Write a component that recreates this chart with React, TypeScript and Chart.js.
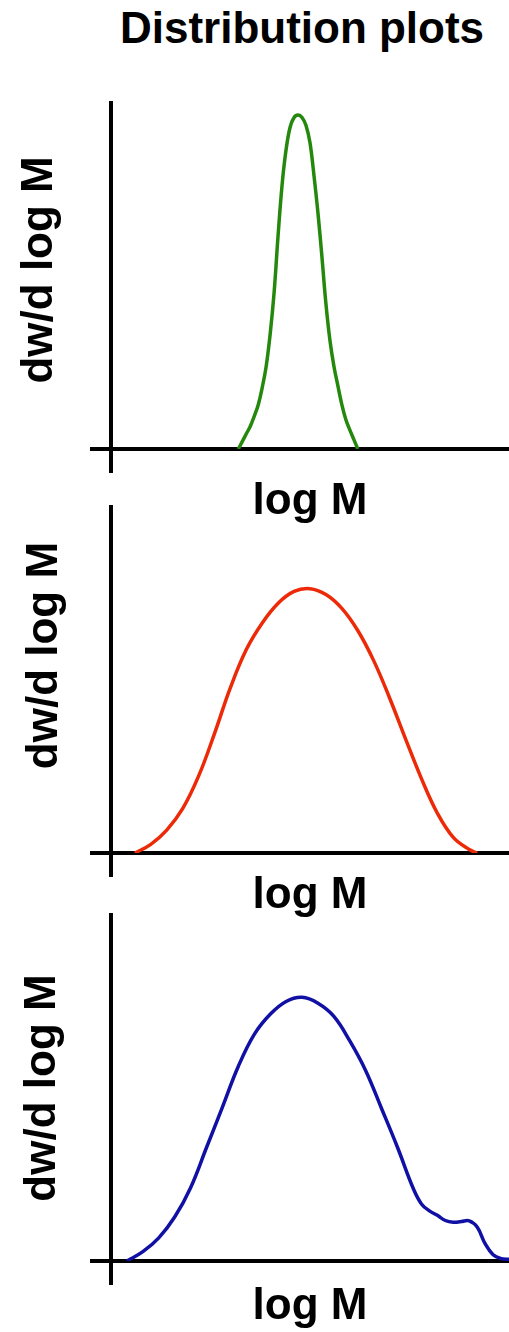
import React, { useEffect, useRef } from "react";
import { Chart, registerables } from "chart.js";

Chart.register(...registerables);

const FONT = '"Liberation Sans", Arial, Helvetica, sans-serif';

const TITLE = "Distribution plots";
const X_LABEL = "log M";
const Y_LABEL = "dw/d log M";

// x in arbitrary log M units (0..10), y = dw/d log M (0..1)
const narrowX = [3.2, 3.3, 3.4, 3.5, 3.6, 3.7, 3.8, 3.9, 4.0, 4.1, 4.2, 4.3, 4.4, 4.5, 4.6, 4.7, 4.8, 4.9, 5.0, 5.1, 5.2, 5.3, 5.4, 5.5, 5.6, 5.7, 5.8, 5.9, 6.0, 6.1, 6.2];
const narrowY = [0.0, 0.022, 0.044, 0.066, 0.095, 0.128, 0.178, 0.24, 0.333, 0.455, 0.62, 0.765, 0.866, 0.93, 0.958, 0.965, 0.958, 0.935, 0.885, 0.79, 0.682, 0.555, 0.42, 0.315, 0.24, 0.183, 0.128, 0.085, 0.055, 0.028, 0.0];

const broadX = [0.6, 1.0, 1.4, 1.8, 2.2, 2.6, 3.0, 3.4, 3.8, 4.2, 4.6, 5.0, 5.4, 5.8, 6.2, 6.6, 7.0, 7.4, 7.8, 8.2, 8.6, 9.0, 9.2];
const broadY = [0.0, 0.025, 0.066, 0.128, 0.222, 0.345, 0.478, 0.588, 0.665, 0.722, 0.756, 0.764, 0.747, 0.707, 0.643, 0.556, 0.448, 0.33, 0.215, 0.115, 0.045, 0.01, 0.0];

const shoulderX = [0.4, 0.8, 1.2, 1.6, 2.0, 2.4, 2.8, 3.2, 3.6, 4.0, 4.4, 4.8, 5.2, 5.6, 6.0, 6.4, 6.8, 7.2, 7.6, 7.8, 8.0, 8.2, 8.4, 8.6, 8.8, 9.0, 9.2, 9.4, 9.6, 9.8, 10.0];
const shoulderY = [0.0, 0.027, 0.067, 0.127, 0.212, 0.328, 0.445, 0.563, 0.655, 0.713, 0.75, 0.762, 0.745, 0.707, 0.636, 0.55, 0.44, 0.328, 0.208, 0.165, 0.145, 0.132, 0.117, 0.112, 0.114, 0.116, 0.098, 0.05, 0.018, 0.007, 0.005];

const X_MIN = 0;
const X_MAX = 10;
const Y_MIN = 0;
const Y_MAX = 1;

type PanelCfg = {
  xs: number[];
  ys: number[];
  color: string;
  chartTop: number;
  xAxisH: number;
  yTitlePad: number;
  yShift: number;
};

const PLOT_H = 346;
const TOP_PAD = 8;
const Y_AXIS_W = 111;
const FONT_SIZE = 44;

const panels: PanelCfg[] = [
  { xs: narrowX, ys: narrowY, color: "#24880c", chartTop: 103, xAxisH: 79, yTitlePad: 13, yShift: 1 },
  { xs: broadX, ys: broadY, color: "#ec2a08", chartTop: 507, xAxisH: 69, yTitlePad: 18, yShift: 4 },
  { xs: shoulderX, ys: shoulderY, color: "#1010a4", chartTop: 915, xAxisH: 72, yTitlePad: 16, yShift: 0 },
];

function Panel({ cfg }: { cfg: PanelCfg }) {
  const ref = useRef<HTMLCanvasElement>(null);
  const h = TOP_PAD + PLOT_H + cfg.xAxisH;
  useEffect(() => {
    const axisFont = { family: FONT, size: FONT_SIZE, weight: "bold" as const };
    const chart = new Chart(ref.current as HTMLCanvasElement, {
      type: "line",
      data: {
        datasets: [
          {
            data: cfg.xs.map((x, i) => ({ x, y: cfg.ys[i] })),
            borderColor: cfg.color,
            borderWidth: 3.5,
            pointRadius: 0,
            fill: false,
            tension: 0.4,
          },
        ],
      },
      options: {
        animation: false,
        responsive: false,
        maintainAspectRatio: false,
        layout: { padding: { top: TOP_PAD, left: 0, right: 0, bottom: 0 } },
        plugins: {
          legend: { display: false },
          tooltip: { enabled: false },
          title: { display: false },
        },
        scales: {
          x: {
            type: "linear",
            min: X_MIN,
            max: X_MAX,
            ticks: { display: false },
            afterBuildTicks: (s: any) => {
              s.ticks = [{ value: X_MIN }];
            },
            afterFit: (s: any) => {
              s.height = cfg.xAxisH;
            },
            grid: {
              display: true,
              drawOnChartArea: false,
              drawTicks: true,
              tickLength: 24,
              color: "#000",
              lineWidth: 4,
            },
            border: { display: true, color: "#000", width: 4 },
            title: {
              display: true,
              text: X_LABEL,
              color: "#000",
              font: axisFont,
              padding: { top: 0, bottom: 0 },
            },
          },
          y: {
            type: "linear",
            min: Y_MIN,
            max: Y_MAX,
            ticks: { display: false },
            afterBuildTicks: (s: any) => {
              s.ticks = [{ value: Y_MIN }];
            },
            afterFit: (s: any) => {
              s.width = Y_AXIS_W;
            },
            grid: {
              display: true,
              drawOnChartArea: false,
              drawTicks: true,
              tickLength: 21,
              color: "#000",
              lineWidth: 4,
            },
            border: { display: true, color: "#000", width: 4 },
            title: {
              display: true,
              text: " ".repeat(cfg.yShift) + Y_LABEL,
              color: "#000",
              font: axisFont,
              padding: { top: cfg.yTitlePad, bottom: 0 },
            },
          },
        },
      },
    });
    return () => chart.destroy();
  }, []);
  return (
    <canvas
      ref={ref}
      width={509}
      height={h}
      style={{ position: "absolute", left: 0, top: cfg.chartTop - TOP_PAD, width: 509, height: h }}
    />
  );
}

export default function App() {
  return (
    <div style={{ position: "absolute", left: 0, top: 0, width: 509, height: 1332, background: "#fff", overflow: "hidden" }}>
      <div
        style={{
          position: "absolute",
          left: 0,
          top: 6,
          width: 604,
          textAlign: "center",
          fontFamily: FONT,
          fontWeight: "bold",
          fontSize: FONT_SIZE,
          lineHeight: FONT_SIZE + "px",
          color: "#000",
          whiteSpace: "nowrap",
        }}
      >
        {TITLE}
      </div>
      {panels.map((p, i) => (
        <Panel key={i} cfg={p} />
      ))}
    </div>
  );
}
